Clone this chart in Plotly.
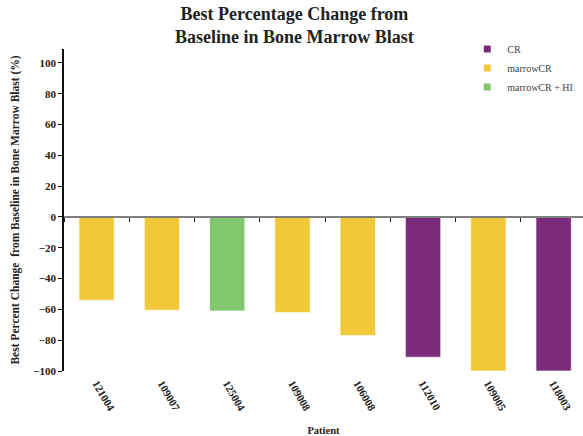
import plotly.graph_objects as go

# Best percentage change in bone marrow blast per patient
patients = ["121004", "109007", "125004", "109008", "106008", "112010", "109005", "118003"]
best_change = [-54, -60.5, -61, -62, -77, -91, -100, -100]
response = ["marrowCR", "marrowCR", "marrowCR + HI", "marrowCR", "marrowCR", "CR", "marrowCR", "CR"]

response_order = ["CR", "marrowCR", "marrowCR + HI"]
response_colors = {"CR": "#7A2B7C", "marrowCR": "#F0C83A", "marrowCR + HI": "#80C76E"}

y_ticks = [-100, -80, -60, -40, -20, 0, 20, 40, 60, 80, 100]
y_range = [-100, 109]
x_range = [-0.5, 7.45]

FONT = "Liberation Serif"

fig = go.Figure()

# bars, one trace per response group
for grp in response_order:
    xs = [p for p, r in zip(patients, response) if r == grp]
    ys = [v for v, r in zip(best_change, response) if r == grp]
    fig.add_trace(go.Bar(
        x=xs, y=ys, width=0.54,
        marker=dict(color=response_colors[grp], line=dict(color="rgba(255,255,255,0.6)", width=1)),
        showlegend=False, hoverinfo="x+y",
    ))

# legend entries with small square swatches
for grp in response_order:
    fig.add_trace(go.Scatter(
        x=[None], y=[None], mode="markers", name=grp,
        marker=dict(symbol="square", size=7, color=response_colors[grp]),
    ))

# helper trace so the zero-crossing axis knows the categories
fig.add_trace(go.Scatter(
    x=patients, y=[0] * len(patients), xaxis="x2", mode="markers",
    marker=dict(opacity=0), showlegend=False, hoverinfo="skip",
))

zero_pos = (0 - y_range[0]) / (y_range[1] - y_range[0])

fig.update_layout(
    width=583, height=436,
    margin=dict(l=64, r=0, t=49, b=65),
    paper_bgcolor="white", plot_bgcolor="white",
    font=dict(family=FONT, color="#222"),
    barmode="overlay",
    title=dict(
        text="<b>Best Percentage Change from<br>Baseline in Bone Marrow Blast</b>",
        x=0.505, xanchor="center", xref="container",
        y=0.954, yanchor="top", yref="container",
        font=dict(family=FONT, size=18, color="#222"),
    ),
    xaxis=dict(
        type="category", categoryorder="array", categoryarray=patients,
        range=x_range, showline=False, ticks="", showgrid=False, zeroline=False,
        tickangle=60, ticklabelstandoff=3,
        tickfont=dict(family=FONT, size=11, color="#222", weight="bold"),
        title=dict(text="<b>Patient</b>", font=dict(family=FONT, size=10.5, color="#222"), standoff=14),
    ),
    xaxis2=dict(
        type="category", categoryorder="array", categoryarray=patients,
        range=x_range, overlaying="x", anchor="free", position=zero_pos, side="bottom",
        showline=True, linecolor="#7f7f7f", linewidth=2,
        ticks="outside", ticklen=4, tickwidth=1.2, tickcolor="#222", tickson="boundaries",
        showticklabels=False, showgrid=False, zeroline=False,
    ),
    yaxis=dict(
        range=y_range, tickvals=y_ticks, showgrid=False, zeroline=False,
        showline=True, linecolor="#111", linewidth=1.5,
        ticks="outside", ticklen=4, tickwidth=1.2, tickcolor="#111",
        tickfont=dict(family=FONT, size=11, color="#222", weight="bold"),
        title=dict(text="<b>Best Percent Change  from Baseline in Bone Marrow Blast (%)</b>",
                   font=dict(family=FONT, size=11.5, color="#222"), standoff=11),
    ),
    legend=dict(
        x=0.777, xanchor="left", y=1.045, yanchor="top",
        font=dict(family=FONT, size=10, color="#444"),
        bgcolor="rgba(0,0,0,0)", itemwidth=30,
    ),
)

fig.write_html("out.html")
